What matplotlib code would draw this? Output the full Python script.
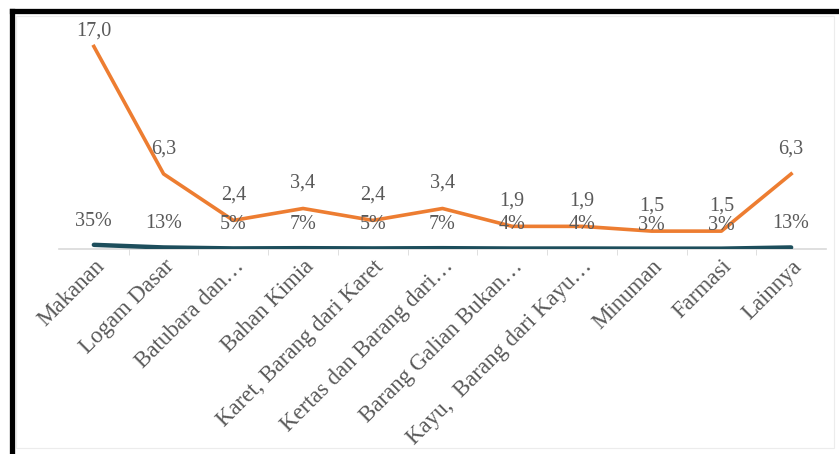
import matplotlib
matplotlib.use("Agg")
import matplotlib.pyplot as plt
from matplotlib.lines import Line2D
from matplotlib.patches import Rectangle

categories = ["Makanan", "Logam Dasar", "Batubara dan…", "Bahan Kimia",
              "Karet, Barang dari Karet", "Kertas dan Barang dari…",
              "Barang Galian Bukan…", "Kayu,  Barang dari Kayu…",
              "Minuman", "Farmasi", "Lainnya"]
values = [17.0, 6.3, 2.4, 3.4, 2.4, 3.4, 1.9, 1.9, 1.5, 1.5, 6.3]
shares = [0.35, 0.13, 0.05, 0.07, 0.05, 0.07, 0.04, 0.04, 0.03, 0.03, 0.13]
value_labels = ["17,0", "6,3", "2,4", "3,4", "2,4", "3,4", "1,9", "1,9", "1,5", "1,5", "6,3"]
share_labels = ["35%", "13%", "5%", "7%", "5%", "7%", "4%", "4%", "3%", "3%", "13%"]

W, H = 839, 454
fig = plt.figure(figsize=(W / 100, H / 100), dpi=100)
fig.patch.set_facecolor("white")

serif = ["Liberation Serif", "DejaVu Serif"]
gray = "#595959"

ax = fig.add_axes([59 / W, 1 - 249 / H, (826 - 59) / W, (249 - 25) / H])
x = list(range(len(categories)))
ax.plot(x, shares, color="#1d4e5c", lw=3.2, solid_capstyle="round", zorder=3)
ax.plot(x, values, color="#ED7D31", lw=2.6, zorder=4)
ax.set_xlim(-0.5, len(categories) - 0.5)
ax.set_ylim(0, 18.8)

for xi, v, lab in zip(x, values, value_labels):
    off = 11 if xi == 0 else 18
    ax.annotate(lab, (xi, v), xytext=(0, off), textcoords="offset points",
                ha="center", va="center", fontsize=14.5, color=gray, family=serif, zorder=5)
for xi, s, lab in zip(x, shares, share_labels):
    ax.annotate(lab, (xi, s), xytext=(0, 17), textcoords="offset points",
                ha="center", va="center", fontsize=14.5, color=gray, family=serif, zorder=5)

for side in ["top", "right", "left"]:
    ax.spines[side].set_visible(False)
ax.spines["bottom"].set_color("#d9d9d9")
ax.spines["bottom"].set_linewidth(1.2)
ax.set_yticks([])
ax.set_xticks([i + 0.5 for i in x[:-1]], minor=True)
ax.set_xticks(x)
ax.tick_params(axis="x", which="major", length=0, pad=5)
ax.tick_params(axis="x", which="minor", length=4, color="#d9d9d9", direction="out")
ax.set_xticklabels(categories, rotation=45, ha="right", va="top",
                   rotation_mode="anchor", fontsize=16.5, color=gray, family=serif)

# faint chart area border and black frame
fig.add_artist(Rectangle((16 / W, 1 - 448 / H), (834 - 16) / W, (448 - 16) / H,
                         transform=fig.transFigure, fill=False, ec="#ececec", lw=0.8))
fig.add_artist(Line2D([11.5 / W, 11.5 / W], [0, 1 - 11 / H], transform=fig.transFigure,
                      color="black", lw=3.8, solid_capstyle="projecting"))
fig.add_artist(Line2D([11.5 / W, 1], [1 - 11 / H, 1 - 11 / H], transform=fig.transFigure,
                      color="black", lw=3.8, solid_capstyle="projecting"))

fig.savefig("out.png", dpi=100)
